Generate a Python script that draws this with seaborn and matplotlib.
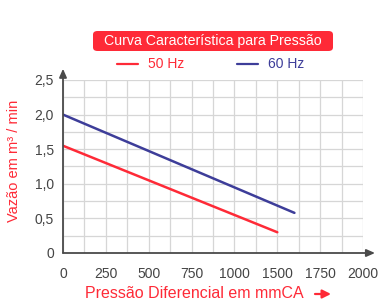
import numpy as np
import pandas as pd
import seaborn as sns
import matplotlib.pyplot as plt
from matplotlib.patches import FancyBboxPatch, FancyArrowPatch
from matplotlib.lines import Line2D
from matplotlib.ticker import FixedLocator

# data
freqs = ["50 Hz", "60 Hz"]
pressure_50 = [0, 1500]
flow_50 = [1.55, 0.30]
pressure_60 = [0, 1600]
flow_60 = [2.00, 0.58]

# the original axis labels are evenly spaced but skip 1250
x_tick_vals = [0, 250, 500, 750, 1000, 1500, 1750, 2000]
x_minor_vals = [125, 375, 625, 875, 1250, 1625, 1875]
y_tick_vals = [0, 0.5, 1.0, 1.5, 2.0, 2.5]
y_tick_labels = ["0", "0,5", "1,0", "1,5", "2,0", "2,5"]
y_minor_vals = [0.25, 0.75, 1.25, 1.75, 2.25]

RED = "#fe2a37"
BLUE = "#3d3d99"
GRID = "#d6d6d6"
AXIS = "#4a4a4a"

df = pd.concat([
    pd.DataFrame({"pressure": pressure_50, "flow": flow_50, "freq": freqs[0]}),
    pd.DataFrame({"pressure": pressure_60, "flow": flow_60, "freq": freqs[1]}),
])

sns.set_style("white")
plt.rcParams["font.family"] = ["Liberation Sans", "DejaVu Sans"]

fig = plt.figure(figsize=(3.78, 3.0), dpi=100)
ax = fig.add_axes([63 / 378, 47 / 300, 300 / 378, 173 / 300])

idx = np.arange(len(x_tick_vals), dtype=float)


def fwd(x):
    return np.interp(x, x_tick_vals, idx)


def inv(p):
    return np.interp(p, idx, x_tick_vals)


ax.set_xscale("function", functions=(fwd, inv))

sns.lineplot(data=df, x="pressure", y="flow", hue="freq",
             palette={freqs[0]: RED, freqs[1]: BLUE},
             linewidth=1.8, ax=ax, legend=False, sort=False)

ax.set_xlim(0, 2000)
ax.set_ylim(0, 2.5)
ax.xaxis.set_major_locator(FixedLocator(x_tick_vals))
ax.xaxis.set_minor_locator(FixedLocator(x_minor_vals))
ax.set_xticklabels([str(v) for v in x_tick_vals])
ax.yaxis.set_major_locator(FixedLocator(y_tick_vals))
ax.yaxis.set_minor_locator(FixedLocator(y_minor_vals))
ax.set_yticklabels(y_tick_labels)

ax.grid(True, which="both", color=GRID, linewidth=0.9)
ax.set_axisbelow(True)
ax.tick_params(axis="x", which="major", direction="in", length=3, width=1,
               color=AXIS, pad=10, labelsize=10, labelcolor="#444444")
ax.tick_params(axis="y", which="major", direction="out", length=3.5, width=1,
               color=AXIS, pad=3, labelsize=10, labelcolor="#444444")
ax.tick_params(which="minor", length=0)
ax.set_xlabel("")
ax.set_ylabel("")

for s in ["top", "right", "left", "bottom"]:
    ax.spines[s].set_visible(False)

# axis lines with arrowheads
arrow_kw = dict(arrowstyle="-|>,head_length=0.5,head_width=0.22",
                color=AXIS, lw=1.3, shrinkA=0, shrinkB=0)
ax.annotate("", xy=(1.04, 0), xytext=(0, 0), xycoords="axes fraction",
            textcoords="axes fraction", arrowprops=arrow_kw, annotation_clip=False)
ax.annotate("", xy=(0, 1.065), xytext=(0, 0), xycoords="axes fraction",
            textcoords="axes fraction", arrowprops=arrow_kw, annotation_clip=False)

# title in a red rounded box
fig.patches.append(FancyBboxPatch((93 / 378, 1 - 51 / 300), 240 / 378, 20 / 300,
                                  boxstyle="round,pad=0,rounding_size=0.012",
                                  transform=fig.transFigure, facecolor=RED,
                                  edgecolor="none"))
fig.text(213 / 378, 1 - 41 / 300, "Curva Característica para Pressão",
         ha="center", va="center", color="white", fontsize=10.2)

# legend
fig.lines.append(Line2D([117 / 378, 138 / 378], [1 - 64 / 300] * 2, color=RED,
                        lw=1.6, transform=fig.transFigure))
fig.text(148 / 378, 1 - 64 / 300, freqs[0], ha="left", va="center",
         color=RED, fontsize=10)
fig.lines.append(Line2D([237 / 378, 258 / 378], [1 - 64 / 300] * 2, color=BLUE,
                        lw=1.6, transform=fig.transFigure))
fig.text(268 / 378, 1 - 64 / 300, freqs[1], ha="left", va="center",
         color=BLUE, fontsize=10)

# axis titles
fig.text(14 / 378, 1 - 161 / 300, "Vazão em m³ / min", rotation=90,
         ha="center", va="center", color=RED, fontsize=10.5)
fig.text(194 / 378, 1 - 294 / 300, "Pressão Diferencial em mmCA",
         ha="center", va="center", color=RED, fontsize=11.5)
fig.patches.append(FancyArrowPatch(
    (315 / 378, 1 - 294 / 300), (331 / 378, 1 - 294 / 300),
    arrowstyle="-|>,head_length=0.5,head_width=0.25", mutation_scale=10,
    color=RED, lw=1.6, transform=fig.transFigure, shrinkA=0, shrinkB=0))

fig.savefig("out.png", dpi=100)
